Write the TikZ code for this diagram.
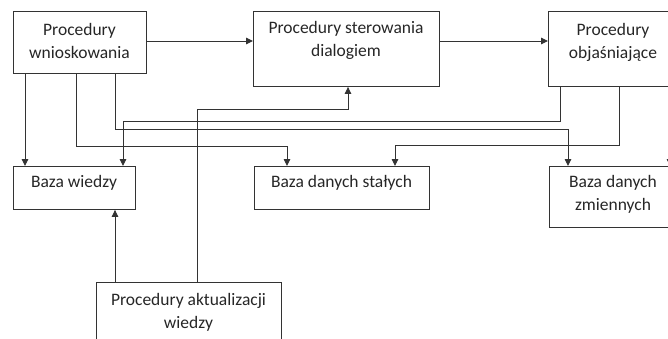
\documentclass[tikz,border=0pt]{standalone}
\usepackage{fontspec}
\setmainfont{Carlito}
\usetikzlibrary{arrows.meta,calc}
\begin{document}
\begin{tikzpicture}[x=1pt,y=-1pt,
  box/.style={draw=black!80,line width=0.9pt,anchor=north west,inner sep=0pt},
  txt/.style={align=center,font=\fontsize{17.5}{23}\selectfont,text=black!85,inner sep=0pt},
  conn/.style={draw=black!80,line width=0.9pt,-{Triangle[length=7pt,width=6.5pt]}},
  line/.style={draw=black!80,line width=0.9pt}]
\useasboundingbox (0,0) rectangle (668,338);
\clip (0,0) rectangle (668,338);
% boxes
\node[box,minimum width=133pt,minimum height=62pt] (b1) at (13,11) {};
\node[box,minimum width=186pt,minimum height=75pt] (b2) at (253,11) {};
\node[box,minimum width=135pt,minimum height=75pt] (b3) at (548,11) {};
\node[box,minimum width=122pt,minimum height=43pt] (bw) at (13,166) {};
\node[box,minimum width=175pt,minimum height=43pt] (bs) at (254,166) {};
\node[box,minimum width=135pt,minimum height=61pt] (bz) at (549,166) {};
\node[box,minimum width=185pt,minimum height=65pt] (ba) at (96,282) {};
% texts
\node[txt] (t1) at (79.5,40.5) {Procedury\\wnioskowania};
\node[txt] (t2) at (346,40.5) {Procedury sterowania\\dialogiem};
\node[txt] (t3) at (613,42) {Procedury\\objaśniające};
\node[txt] (tw) at (74,183) {Baza wiedzy};
\node[txt] (ts) at (341.5,183) {Baza danych stałych};
\node[txt] (tz) at (613,194.5) {Baza danych\\zmiennych};
\node[txt] (ta) at (188.5,312.5) {Procedury aktualizacji\\wiedzy};
% connectors
\draw[conn] (b1.east |- 0,41) -- (b2.west |- 0,41);
\draw[conn] (b2.east |- 0,41) -- (b3.west |- 0,41);
\draw[conn] (b1.south -| 25,0) -- (bw.north -| 25,0);
\draw[conn] (b1.south -| 76,0) -- (76,146) -- (287,146) -- (bs.north -| 287,0);
\draw[conn] (b1.south -| 115,0) -- (115,129) -- (568,129) -- (bz.north -| 568,0);
\draw[conn] (b3.south -| 560,0) -- (560,121) -- (123,121) -- (bw.north -| 123,0);
\draw[conn] (b3.south -| 619,0) -- (619,145) -- (395,145) -- (bs.north -| 395,0);
\draw[conn] (ba.north -| 197,0) -- (197,109) -- (348,109) -- (b2.south -| 348,0);
\draw[conn] (ba.north -| 115,0) -- (bw.south -| 115,0);
\draw[conn] (b3.south -| 670,0) -- (bz.north -| 670,0);
\end{tikzpicture}
\end{document}
